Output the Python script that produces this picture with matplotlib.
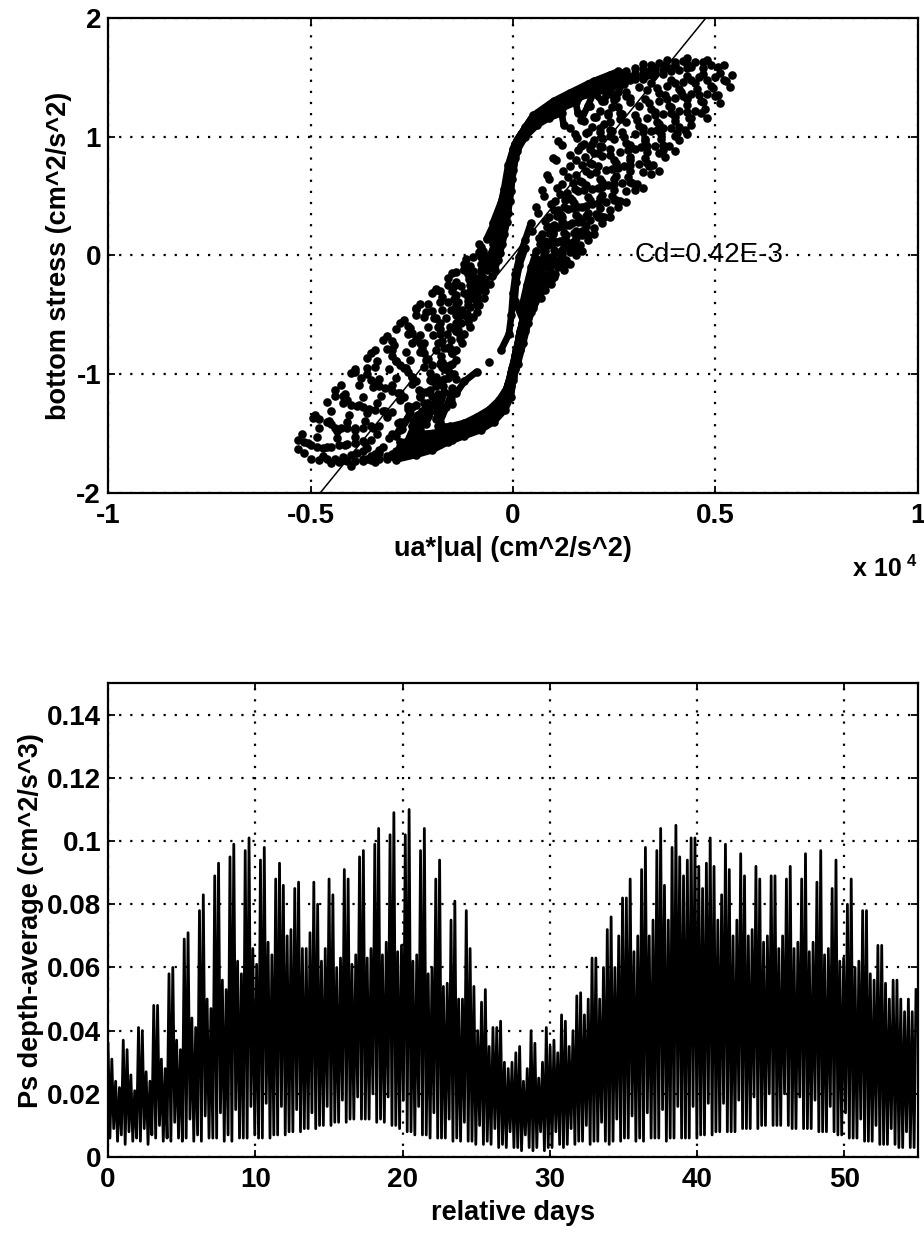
import numpy as np
import matplotlib
matplotlib.use("Agg")
import matplotlib.pyplot as plt
from matplotlib.ticker import FuncFormatter

plt.rcParams['font.family'] = ['Liberation Sans', 'DejaVu Sans']
plt.rcParams['axes.unicode_minus'] = False

# ---- top panel: bottom stress vs ua*|ua| (x in units of 1e4 cm^2/s^2) ----
# each loop = one tidal cycle
loop1 = [(-0.53,-1.55),(-0.49,-1.34),(-0.44,-1.13),(-0.40,-0.99),(-0.36,-0.86),(-0.32,-0.71),(-0.28,-0.57),
         (-0.24,-0.44),(-0.20,-0.32),(-0.16,-0.19),(-0.12,-0.07),(-0.08,0.07),(-0.05,0.27),(-0.025,0.49),
         (-0.01,0.70),(0.0,0.90),(0.02,1.02),(0.05,1.18),(0.10,1.30),(0.14,1.37),(0.20,1.47),(0.26,1.55),
         (0.32,1.61),(0.38,1.65),(0.43,1.66),(0.48,1.65),(0.52,1.60),(0.54,1.52),(0.535,1.42),(0.51,1.28),
         (0.48,1.16),(0.43,1.02),(0.40,0.88),(0.36,0.71),(0.32,0.57),(0.28,0.45),(0.24,0.32),(0.20,0.18),
         (0.17,0.04),(0.14,-0.07),(0.10,-0.18),(0.077,-0.27),(0.05,-0.42),(0.037,-0.57),(0.025,-0.74),
         (0.012,-0.91),(0.0,-1.05),(-0.005,-1.19),(-0.02,-1.30),(-0.047,-1.40),(-0.08,-1.47),(-0.12,-1.52),
         (-0.16,-1.57),(-0.20,-1.64),(-0.24,-1.68),(-0.29,-1.72),(-0.34,-1.74),(-0.40,-1.77),(-0.45,-1.75),
         (-0.50,-1.71),(-0.53,-1.63)]
loop1b = [(-0.515,-1.57),(-0.48,-1.38),(-0.44,-1.18),(-0.39,-0.98),(-0.34,-0.80),(-0.29,-0.62),(-0.24,-0.45),
          (-0.19,-0.29),(-0.14,-0.14),(-0.10,-0.01),(-0.065,0.14),(-0.04,0.32),(-0.022,0.52),(-0.01,0.72),
          (0.002,0.90),(0.015,1.00),(0.045,1.15),(0.09,1.27),(0.13,1.34),(0.185,1.44),(0.24,1.52),(0.30,1.58),
          (0.36,1.62),(0.42,1.64),(0.47,1.63),(0.505,1.59),(0.52,1.48),(0.50,1.34),(0.465,1.20),(0.425,1.06),
          (0.385,0.92),(0.345,0.76),(0.305,0.60),(0.265,0.46),(0.225,0.32),(0.185,0.17),(0.155,0.03),
          (0.125,-0.09),(0.095,-0.21),(0.065,-0.34),(0.045,-0.48),(0.03,-0.64),(0.018,-0.80),(0.006,-0.96),
          (-0.004,-1.10),(-0.015,-1.22),(-0.035,-1.33),(-0.07,-1.42),(-0.11,-1.49),(-0.15,-1.55),(-0.20,-1.62),
          (-0.25,-1.67),(-0.31,-1.71),(-0.37,-1.73),(-0.43,-1.74),(-0.48,-1.72),(-0.515,-1.66)]
loop2 = [(-0.50,-1.60),(-0.46,-1.40),(-0.42,-1.18),(-0.36,-0.95),(-0.30,-0.72),(-0.24,-0.50),(-0.18,-0.30),
         (-0.12,-0.12),(-0.08,0.03),(-0.05,0.20),(-0.03,0.40),(-0.015,0.60),(-0.005,0.80),(0.01,0.97),
         (0.04,1.12),(0.08,1.24),(0.12,1.32),(0.17,1.41),(0.22,1.48),(0.28,1.55),(0.34,1.60),(0.40,1.63),
         (0.45,1.63),(0.49,1.60),(0.50,1.50),(0.48,1.36),(0.45,1.22),(0.41,1.08),(0.37,0.93),(0.33,0.78),
         (0.29,0.62),(0.25,0.47),(0.21,0.32),(0.17,0.17),(0.14,0.03),(0.11,-0.10),(0.08,-0.22),(0.055,-0.36),
         (0.035,-0.52),(0.02,-0.70),(0.01,-0.88),(0.0,-1.02),(-0.01,-1.16),(-0.03,-1.28),(-0.06,-1.38),
         (-0.10,-1.46),(-0.14,-1.53),(-0.19,-1.60),(-0.24,-1.65),(-0.30,-1.69),(-0.36,-1.71),(-0.42,-1.72),
         (-0.47,-1.69)]
loop2b = [(-0.485,-1.61),(-0.45,-1.42),(-0.41,-1.22),(-0.36,-1.00),(-0.31,-0.79),(-0.26,-0.59),(-0.21,-0.41),
          (-0.16,-0.25),(-0.12,-0.11),(-0.085,0.03),(-0.055,0.18),(-0.035,0.36),(-0.022,0.56),(-0.012,0.76),
          (0.004,0.94),(0.035,1.10),(0.07,1.21),(0.11,1.30),(0.16,1.39),(0.21,1.46),(0.265,1.52),(0.32,1.57),
          (0.375,1.60),(0.43,1.61),(0.47,1.58),(0.48,1.48),(0.46,1.35),(0.43,1.21),(0.39,1.07),(0.35,0.92),
          (0.31,0.77),(0.27,0.61),(0.23,0.45),(0.19,0.30),(0.155,0.15),(0.12,0.01),(0.092,-0.12),(0.068,-0.25),
          (0.048,-0.39),(0.032,-0.55),(0.02,-0.72),(0.01,-0.88),(-0.002,-1.02),(-0.014,-1.16),(-0.032,-1.27),
          (-0.06,-1.37),(-0.095,-1.45),(-0.135,-1.52),(-0.18,-1.59),(-0.23,-1.64),(-0.29,-1.69),(-0.35,-1.72),
          (-0.41,-1.73),(-0.46,-1.71)]
loop3 = [(-0.47,-1.62),(-0.44,-1.45),(-0.40,-1.26),(-0.35,-1.05),(-0.30,-0.85),(-0.25,-0.65),(-0.20,-0.47),
         (-0.15,-0.30),(-0.11,-0.16),(-0.075,-0.02),(-0.045,0.15),(-0.03,0.35),(-0.02,0.55),(-0.01,0.75),
         (0.005,0.93),(0.03,1.08),(0.06,1.18),(0.10,1.27),(0.15,1.36),(0.20,1.43),(0.25,1.49),(0.30,1.54),
         (0.35,1.58),(0.40,1.60),(0.44,1.59),(0.46,1.50),(0.44,1.36),(0.41,1.22),(0.37,1.07),(0.33,0.92),
         (0.29,0.76),(0.25,0.60),(0.21,0.44),(0.17,0.28),(0.13,0.12),(0.10,-0.03),(0.075,-0.17),(0.05,-0.32),
         (0.03,-0.48),(0.018,-0.65),(0.008,-0.82),(-0.002,-0.98),(-0.012,-1.12),(-0.03,-1.24),(-0.055,-1.34),
         (-0.09,-1.43),(-0.13,-1.50),(-0.17,-1.57),(-0.22,-1.63),(-0.27,-1.68),(-0.33,-1.71),(-0.39,-1.73),
         (-0.44,-1.71)]
loop3b = [(-0.45,-1.61),(-0.425,-1.45),(-0.385,-1.27),(-0.34,-1.08),(-0.29,-0.89),(-0.24,-0.70),(-0.19,-0.53),
          (-0.145,-0.37),(-0.105,-0.21),(-0.075,-0.06),(-0.05,0.10),(-0.032,0.30),(-0.02,0.50),(-0.01,0.70),
          (0.003,0.88),(0.02,1.01),(0.05,1.13),(0.09,1.23),(0.135,1.32),(0.185,1.40),(0.235,1.46),(0.285,1.51),
          (0.335,1.55),(0.385,1.58),(0.43,1.58),(0.44,1.48),(0.42,1.34),(0.39,1.20),(0.355,1.06),(0.315,0.91),
          (0.275,0.75),(0.235,0.59),(0.195,0.43),(0.16,0.28),(0.125,0.13),(0.095,-0.01),(0.07,-0.15),
          (0.048,-0.30),(0.032,-0.46),(0.02,-0.63),(0.01,-0.80),(0.0,-0.96),(-0.011,-1.10),(-0.027,-1.22),
          (-0.052,-1.33),(-0.085,-1.41),(-0.125,-1.49),(-0.165,-1.55),(-0.21,-1.61),(-0.26,-1.66),(-0.31,-1.69),
          (-0.37,-1.71),(-0.42,-1.70)]
loop4 = [(-0.43,-1.60),(-0.41,-1.45),(-0.37,-1.28),(-0.33,-1.10),(-0.28,-0.92),(-0.23,-0.74),(-0.18,-0.57),
         (-0.14,-0.42),(-0.10,-0.26),(-0.07,-0.10),(-0.045,0.06),(-0.03,0.25),(-0.02,0.45),(-0.012,0.65),
         (-0.002,0.85),(0.015,0.98),(0.04,1.10),(0.08,1.20),(0.12,1.29),(0.17,1.37),(0.22,1.44),(0.27,1.49),
         (0.32,1.53),(0.37,1.56),(0.41,1.56),(0.42,1.46),(0.40,1.33),(0.37,1.19),(0.34,1.05),(0.30,0.90),
         (0.26,0.74),(0.22,0.58),(0.18,0.42),(0.145,0.27),(0.115,0.12),(0.09,-0.02),(0.065,-0.16),(0.045,-0.30),
         (0.03,-0.45),(0.02,-0.62),(0.01,-0.80),(0.0,-0.96),(-0.01,-1.10),(-0.025,-1.22),(-0.05,-1.32),
         (-0.08,-1.40),(-0.12,-1.48),(-0.16,-1.54),(-0.20,-1.60),(-0.25,-1.64),(-0.30,-1.67),(-0.35,-1.69),
         (-0.40,-1.68)]
loop4b = [(-0.41,-1.59),(-0.39,-1.45),(-0.355,-1.29),(-0.315,-1.12),(-0.27,-0.95),(-0.225,-0.78),(-0.18,-0.62),
          (-0.14,-0.46),(-0.105,-0.30),(-0.078,-0.15),(-0.055,0.01),(-0.036,0.19),(-0.024,0.39),(-0.014,0.59),
          (-0.004,0.79),(0.01,0.95),(0.035,1.07),(0.07,1.17),(0.11,1.26),(0.155,1.34),(0.20,1.41),(0.25,1.47),
          (0.30,1.51),(0.35,1.54),(0.39,1.55),(0.40,1.45),(0.38,1.32),(0.35,1.18),(0.32,1.04),(0.285,0.89),
          (0.245,0.73),(0.21,0.57),(0.17,0.41),(0.138,0.26),(0.108,0.11),(0.084,-0.03),(0.062,-0.17),
          (0.043,-0.31),(0.03,-0.46),(0.019,-0.63),(0.009,-0.80),(-0.001,-0.95),(-0.011,-1.09),(-0.025,-1.21),
          (-0.047,-1.31),(-0.078,-1.39),(-0.115,-1.47),(-0.155,-1.53),(-0.195,-1.58),(-0.24,-1.62),(-0.29,-1.65),
          (-0.34,-1.67),(-0.385,-1.66)]
loop5 = [(-0.39,-1.58),(-0.37,-1.45),(-0.34,-1.30),(-0.30,-1.14),(-0.26,-0.98),(-0.22,-0.82),(-0.18,-0.66),
         (-0.14,-0.50),(-0.11,-0.35),(-0.085,-0.20),(-0.06,-0.05),(-0.04,0.12),(-0.025,0.32),(-0.015,0.52),
         (-0.005,0.72),(0.005,0.90),(0.025,1.04),(0.055,1.14),(0.09,1.22),(0.13,1.30),(0.18,1.38),(0.23,1.44),
         (0.28,1.49),(0.33,1.52),(0.37,1.53),(0.38,1.43),(0.36,1.30),(0.33,1.16),(0.30,1.02),(0.265,0.87),
         (0.23,0.72),(0.195,0.56),(0.16,0.41),(0.13,0.26),(0.10,0.11),(0.078,-0.03),(0.058,-0.17),(0.04,-0.32),
         (0.028,-0.47),(0.018,-0.64),(0.008,-0.80),(-0.002,-0.95),(-0.012,-1.08),(-0.025,-1.20),(-0.045,-1.30),
         (-0.075,-1.38),(-0.11,-1.46),(-0.15,-1.52),(-0.19,-1.57),(-0.23,-1.61),(-0.28,-1.64),(-0.33,-1.66),
         (-0.37,-1.65)]
loop5b = [(-0.37,-1.56),(-0.35,-1.44),(-0.32,-1.31),(-0.285,-1.16),(-0.25,-1.02),(-0.21,-0.87),(-0.175,-0.72),
          (-0.14,-0.57),(-0.11,-0.42),(-0.087,-0.27),(-0.065,-0.12),(-0.046,0.04),(-0.03,0.22),(-0.018,0.42),
          (-0.009,0.62),(0.0,0.80),(0.012,0.95),(0.035,1.08),(0.07,1.18),(0.11,1.26),(0.15,1.33),(0.20,1.40),
          (0.25,1.45),(0.30,1.49),(0.345,1.51),(0.355,1.41),(0.335,1.28),(0.305,1.14),(0.275,1.00),(0.24,0.85),
          (0.205,0.70),(0.175,0.55),(0.148,0.40),(0.12,0.25),(0.095,0.10),(0.074,-0.04),(0.055,-0.19),
          (0.04,-0.34),(0.027,-0.50),(0.017,-0.66),(0.007,-0.82),(-0.003,-0.97),(-0.013,-1.10),(-0.027,-1.21),
          (-0.047,-1.31),(-0.078,-1.39),(-0.11,-1.45),(-0.15,-1.51),(-0.19,-1.56),(-0.23,-1.60),(-0.28,-1.63),
          (-0.33,-1.64),(-0.36,-1.62)]
loop6 = [(-0.35,-1.55),(-0.33,-1.44),(-0.30,-1.32),(-0.27,-1.19),(-0.24,-1.06),(-0.20,-0.92),(-0.17,-0.78),
         (-0.14,-0.64),(-0.115,-0.50),(-0.09,-0.35),(-0.07,-0.20),(-0.05,-0.04),(-0.035,0.14),(-0.022,0.34),
         (-0.012,0.54),(-0.004,0.74),(0.008,0.92),(0.03,1.06),(0.06,1.16),(0.10,1.25),(0.14,1.32),(0.19,1.39),
         (0.24,1.44),(0.29,1.48),(0.32,1.49),(0.33,1.39),(0.31,1.26),(0.28,1.12),(0.25,0.98),(0.22,0.84),
         (0.19,0.69),(0.16,0.54),(0.135,0.39),(0.11,0.24),(0.09,0.10),(0.07,-0.05),(0.052,-0.20),(0.038,-0.36),
         (0.025,-0.52),(0.015,-0.68),(0.005,-0.84),(-0.005,-0.98),(-0.015,-1.12),(-0.03,-1.22),(-0.05,-1.31),
         (-0.08,-1.39),(-0.11,-1.45),(-0.15,-1.51),(-0.19,-1.55),(-0.23,-1.58),(-0.28,-1.61),(-0.32,-1.61)]
loop7 = [(-0.30,-1.50),(-0.28,-1.40),(-0.26,-1.29),(-0.23,-1.18),(-0.20,-1.06),(-0.175,-0.94),(-0.15,-0.82),
         (-0.13,-0.70),(-0.11,-0.56),(-0.09,-0.42),(-0.07,-0.26),(-0.055,-0.10),(-0.04,0.06),(-0.028,0.24),
         (-0.018,0.44),(-0.008,0.64),(0.0,0.82),(0.012,0.96),(0.035,1.08),(0.07,1.18),(0.11,1.26),(0.15,1.33),
         (0.20,1.39),(0.245,1.43),(0.275,1.44),(0.28,1.34),(0.265,1.20),(0.24,1.06),(0.215,0.92),(0.19,0.78),
         (0.165,0.63),(0.14,0.48),(0.118,0.34),(0.098,0.20),(0.08,0.06),(0.064,-0.09),(0.05,-0.24),(0.038,-0.40),
         (0.026,-0.56),(0.016,-0.72),(0.006,-0.88),(-0.004,-1.02),(-0.016,-1.14),(-0.035,-1.25),(-0.06,-1.33),
         (-0.09,-1.40),(-0.12,-1.46),(-0.16,-1.51),(-0.20,-1.54),(-0.24,-1.57),(-0.28,-1.57)]
loop7b = [(-0.28,-1.47),(-0.26,-1.37),(-0.24,-1.26),(-0.215,-1.15),(-0.19,-1.04),(-0.17,-0.92),(-0.15,-0.80),
          (-0.13,-0.67),(-0.11,-0.53),(-0.09,-0.39),(-0.072,-0.24),(-0.056,-0.09),(-0.042,0.07),(-0.03,0.25),
          (-0.02,0.44),(-0.01,0.63),(-0.002,0.81),(0.012,0.95),(0.04,1.08),(0.075,1.18),(0.115,1.26),(0.155,1.32),
          (0.20,1.37),(0.24,1.40),(0.25,1.31),(0.235,1.18),(0.215,1.04),(0.19,0.90),(0.17,0.76),(0.148,0.61),
          (0.128,0.47),(0.108,0.33),(0.09,0.19),(0.074,0.05),(0.06,-0.10),(0.047,-0.25),(0.036,-0.41),
          (0.025,-0.57),(0.015,-0.73),(0.005,-0.89),(-0.005,-1.03),(-0.018,-1.15),(-0.038,-1.25),(-0.062,-1.33),
          (-0.092,-1.40),(-0.125,-1.45),(-0.165,-1.49),(-0.205,-1.52),(-0.245,-1.54)]
loop8 = [(-0.25,-1.44),(-0.235,-1.34),(-0.22,-1.24),(-0.205,-1.13),(-0.19,-1.02),(-0.175,-0.90),(-0.16,-0.78),
         (-0.14,-0.64),(-0.12,-0.50),(-0.10,-0.36),(-0.08,-0.22),(-0.06,-0.08),(-0.042,0.06),(-0.03,0.22),
         (-0.02,0.40),(-0.012,0.58),(-0.004,0.76),(0.008,0.92),(0.045,1.10),(0.08,1.19),(0.12,1.27),(0.16,1.33),
         (0.20,1.37),(0.22,1.30),(0.20,1.17),(0.18,1.03),(0.16,0.89),(0.14,0.75),(0.12,0.60),(0.104,0.46),
         (0.088,0.32),(0.072,0.18),(0.058,0.04),(0.045,-0.10),(0.034,-0.25),(0.024,-0.40),(0.024,-0.58),
         (0.014,-0.74),(0.004,-0.90),(-0.006,-1.04),(-0.02,-1.16),(-0.04,-1.26),(-0.065,-1.34),(-0.095,-1.40),
         (-0.13,-1.45),(-0.17,-1.48),(-0.21,-1.50),(-0.24,-1.50)]
loop9 = [(-0.19,-1.38),(-0.18,-1.27),(-0.17,-1.15),(-0.16,-1.03),(-0.15,-0.91),(-0.14,-0.80),(-0.12,-0.66),
         (-0.10,-0.52),(-0.085,-0.42),(-0.068,-0.30),(-0.052,-0.17),(-0.038,-0.04),(-0.026,0.10),(-0.016,0.28),
         (-0.008,0.46),(-0.002,0.64),(0.006,0.82),(0.02,0.97),(0.045,1.08),(0.08,1.17),(0.12,1.24),(0.155,1.29),
         (0.16,1.20),(0.14,1.07),(0.12,0.93),(0.105,0.80),(0.09,0.64),(0.077,0.50),(0.062,0.36),(0.046,0.21),
         (0.03,0.06),(0.016,-0.08),(0.008,-0.22),(0.004,-0.38),(0.024,-0.54),(0.015,-0.70),(0.006,-0.86),
         (-0.004,-1.00),(-0.016,-1.12),(-0.035,-1.22),(-0.06,-1.30),(-0.09,-1.36),(-0.12,-1.41),(-0.155,-1.44),
         (-0.185,-1.44)]
loop10 = [(-0.15,-1.25),(-0.15,-1.12),(-0.145,-1.00),(-0.14,-0.88),(-0.125,-0.74),(-0.105,-0.60),(-0.088,-0.48),
          (-0.072,-0.36),(-0.058,-0.24),(-0.045,-0.12),(-0.033,0.02),(-0.022,0.18),(-0.013,0.36),(-0.006,0.54),
          (0.0,0.72),(0.01,0.88),(0.03,1.00),(0.06,1.10),(0.09,1.16),(0.12,1.20),(0.125,1.10),(0.11,0.96),
          (0.098,0.82),(0.085,0.68),(0.072,0.55),(0.058,0.41),(0.044,0.27),(0.03,0.13),(0.016,-0.01),
          (0.006,-0.16),(0.0,-0.32),(-0.004,-0.50),(-0.01,-0.66),(-0.03,-0.80),(-0.06,-0.90),(-0.09,-0.98),
          (-0.12,-1.06),(-0.14,-1.16)]

# decelerating branches of further cycles (upper-right and lower-left clouds)
upper_returns = [
    [(0.525,1.47),(0.505,1.35),(0.475,1.23),(0.44,1.10),(0.41,0.97),(0.375,0.83),(0.34,0.69),(0.30,0.55),
     (0.26,0.41),(0.22,0.27),(0.185,0.13),(0.155,0.0),(0.125,-0.12),(0.095,-0.24),(0.07,-0.36)],
    [(0.51,1.54),(0.495,1.41),(0.47,1.29),(0.44,1.16),(0.405,1.03),(0.37,0.89),(0.335,0.75),(0.295,0.61),
     (0.255,0.47),(0.215,0.33),(0.18,0.19),(0.148,0.06),(0.12,-0.06),(0.092,-0.18),(0.068,-0.30),(0.05,-0.44)],
    [(0.49,1.43),(0.465,1.30),(0.435,1.16),(0.40,1.01),(0.36,0.86),(0.32,0.70),(0.28,0.54),(0.24,0.38),
     (0.20,0.23),(0.165,0.09),(0.132,-0.04),(0.104,-0.16),(0.078,-0.29)],
    [(0.47,1.53),(0.455,1.40),(0.43,1.27),(0.40,1.13),(0.365,0.98),(0.325,0.82),(0.285,0.66),(0.245,0.50),
     (0.205,0.35),(0.17,0.21),(0.14,0.07),(0.11,-0.06),(0.085,-0.19),(0.06,-0.32)],
    [(0.45,1.45),(0.43,1.32),(0.40,1.17),(0.365,1.02),(0.33,0.87),(0.29,0.71),(0.25,0.55),(0.215,0.40),
     (0.18,0.25),(0.148,0.11),(0.118,-0.02),(0.09,-0.14),(0.066,-0.27)],
    [(0.43,1.51),(0.415,1.38),(0.39,1.25),(0.36,1.11),(0.325,0.96),(0.29,0.80),(0.25,0.64),(0.215,0.48),
     (0.18,0.33),(0.15,0.19),(0.12,0.05),(0.095,-0.08),(0.072,-0.21),(0.05,-0.35)],
    [(0.41,1.40),(0.385,1.26),(0.355,1.12),(0.325,0.98),(0.29,0.83),(0.255,0.67),(0.22,0.51),(0.185,0.36),
     (0.155,0.21),(0.125,0.07),(0.10,-0.06),(0.077,-0.20)],
    [(0.39,1.48),(0.375,1.35),(0.35,1.21),(0.32,1.07),(0.29,0.93),(0.255,0.78),(0.22,0.62),(0.19,0.47),
     (0.16,0.32),(0.13,0.17),(0.105,0.03),(0.082,-0.10),(0.06,-0.24)],
    [(0.36,1.37),(0.34,1.23),(0.31,1.09),(0.28,0.95),(0.25,0.80),(0.215,0.64),(0.185,0.49),(0.155,0.34),
     (0.127,0.19),(0.10,0.05),(0.078,-0.09),(0.058,-0.23)],
    [(0.34,1.45),(0.325,1.32),(0.30,1.18),(0.27,1.04),(0.24,0.90),(0.21,0.75),(0.18,0.59),(0.15,0.44),
     (0.122,0.29),(0.097,0.14),(0.076,0.0),(0.057,-0.14)],
    [(0.31,1.42),(0.29,1.29),(0.265,1.15),(0.24,1.01),(0.21,0.86),(0.18,0.71),(0.152,0.56),(0.126,0.41),
     (0.102,0.26),(0.08,0.12),(0.06,-0.03),(0.044,-0.18)],
    [(0.30,1.50),(0.28,1.38),(0.26,1.25),(0.24,1.12),(0.22,0.99),(0.20,0.86)],
    [(0.29,1.33),(0.27,1.19),(0.245,1.05),(0.22,0.91),(0.195,0.77),(0.17,0.62),(0.145,0.47),(0.12,0.32),
     (0.098,0.18),(0.078,0.04),(0.06,-0.11)],
    [(0.27,1.46),(0.255,1.33),(0.235,1.20),(0.215,1.07),(0.195,0.94)],
    [(0.26,1.38),(0.245,1.25),(0.225,1.11),(0.20,0.97),(0.178,0.83),(0.155,0.68),(0.133,0.53),(0.112,0.38),
     (0.092,0.24),(0.074,0.10),(0.058,-0.05)],
    [(0.24,1.43),(0.225,1.30),(0.205,1.17),(0.185,1.04),(0.168,0.92)],
    [(0.23,1.35),(0.215,1.22),(0.195,1.08),(0.175,0.94),(0.155,0.80),(0.135,0.66),(0.117,0.52),(0.10,0.38),
     (0.083,0.24),(0.067,0.10)],
    [(0.20,1.38),(0.185,1.26),(0.168,1.14),(0.152,1.02)],
    [(0.19,1.26),(0.175,1.13),(0.158,0.99),(0.14,0.85),(0.123,0.71),(0.108,0.57),(0.093,0.43),(0.078,0.29),
     (0.063,0.15)],
]
lower_returns = [
    [(-0.52,-1.50),(-0.495,-1.37),(-0.46,-1.23),(-0.425,-1.09),(-0.39,-0.96),(-0.35,-0.82),(-0.31,-0.68),
     (-0.27,-0.54),(-0.23,-0.41),(-0.19,-0.28),(-0.15,-0.15),(-0.115,-0.03),(-0.085,0.10)],
    [(-0.505,-1.58),(-0.48,-1.45),(-0.45,-1.31),(-0.415,-1.17),(-0.375,-1.03),(-0.335,-0.89),(-0.295,-0.75),
     (-0.255,-0.61),(-0.215,-0.48),(-0.175,-0.35),(-0.14,-0.22),(-0.105,-0.09),(-0.075,0.04)],
    [(-0.485,-1.53),(-0.455,-1.39),(-0.42,-1.24),(-0.38,-1.09),(-0.34,-0.94),(-0.30,-0.80),(-0.26,-0.66),
     (-0.22,-0.52),(-0.18,-0.39),(-0.145,-0.26),(-0.11,-0.13),(-0.08,-0.01)],
    [(-0.46,-1.61),(-0.435,-1.48),(-0.405,-1.34),(-0.37,-1.19),(-0.33,-1.04),(-0.29,-0.89),(-0.25,-0.74),
     (-0.21,-0.60),(-0.175,-0.46),(-0.14,-0.33),(-0.108,-0.20),(-0.078,-0.07)],
    [(-0.435,-1.54),(-0.41,-1.40),(-0.38,-1.26),(-0.345,-1.11),(-0.305,-0.96),(-0.265,-0.81),(-0.23,-0.67),
     (-0.195,-0.53),(-0.16,-0.39),(-0.128,-0.26),(-0.098,-0.13),(-0.072,0.0)],
    [(-0.415,-1.60),(-0.39,-1.47),(-0.36,-1.33),(-0.325,-1.18),(-0.29,-1.03),(-0.255,-0.88),(-0.22,-0.74),
     (-0.185,-0.60),(-0.152,-0.46),(-0.122,-0.32),(-0.094,-0.19),(-0.068,-0.06)],
    [(-0.39,-1.53),(-0.365,-1.39),(-0.335,-1.24),(-0.30,-1.09),(-0.265,-0.95),(-0.23,-0.81),(-0.197,-0.67),
     (-0.165,-0.53),(-0.135,-0.39),(-0.107,-0.25),(-0.08,-0.12)],
    [(-0.365,-1.58),(-0.345,-1.45),(-0.315,-1.31),(-0.28,-1.16),(-0.25,-1.02),(-0.215,-0.88),(-0.185,-0.74),
     (-0.155,-0.60),(-0.127,-0.46),(-0.10,-0.32),(-0.075,-0.19)],
    [(-0.335,-1.50),(-0.31,-1.36),(-0.28,-1.22),(-0.25,-1.08),(-0.22,-0.94),(-0.19,-0.80),(-0.162,-0.66),
     (-0.135,-0.52),(-0.11,-0.38),(-0.086,-0.24)],
    [(-0.305,-1.54),(-0.285,-1.41),(-0.26,-1.27),(-0.232,-1.13),(-0.205,-0.99),(-0.178,-0.85),(-0.152,-0.71),
     (-0.128,-0.57),(-0.105,-0.43),(-0.083,-0.29)],
    [(-0.29,-1.52),(-0.27,-1.40),(-0.25,-1.28),(-0.225,-1.15),(-0.20,-1.02),(-0.178,-0.90),(-0.158,-0.78)],
    [(-0.275,-1.46),(-0.255,-1.33),(-0.23,-1.19),(-0.205,-1.05),(-0.18,-0.91),(-0.157,-0.77),(-0.135,-0.63),
     (-0.113,-0.49),(-0.092,-0.35)],
    [(-0.26,-1.56),(-0.245,-1.44),(-0.225,-1.31),(-0.20,-1.18),(-0.18,-1.06),(-0.162,-0.94)],
    [(-0.245,-1.49),(-0.228,-1.37),(-0.21,-1.24),(-0.19,-1.10),(-0.17,-0.96),(-0.15,-0.82)],
    [(-0.23,-1.47),(-0.21,-1.35),(-0.19,-1.22),(-0.172,-1.10),(-0.158,-0.98)],
    [(-0.215,-1.42),(-0.20,-1.30),(-0.185,-1.17),(-0.17,-1.04),(-0.155,-0.92)],
    [(-0.18,-1.40),(-0.165,-1.28),(-0.152,-1.16),(-0.14,-1.04)],
]
loops = ([loop1, loop1b, loop2, loop2b, loop3, loop3b, loop4, loop4b, loop5, loop5b,
          loop6, loop7, loop7b, loop8, loop9, loop10] + upper_returns + lower_returns)

Cd = 0.42e-3          # drag coefficient of the fitted line
x_scale = 1e4         # x axis multiplier

# ---- bottom panel: depth-averaged production, one max per quarter tidal cycle ----
tidal_step = 0.2588   # days between successive current maxima
peak_vals = [
    .036, .031, .024, .022,  .037, .034, .026, .021,  .041, .040, .027, .024,  .048, .048, .031, .028,
    .058, .060, .037, .034,  .069, .071, .044, .041,  .078, .083, .050, .047,  .089, .093, .056, .053,
    .095, .099, .062, .058,  .097, .101, .066, .061,  .094, .098, .068, .064,  .088, .093, .086, .070,
    .072, .085, .087, .066,  .066, .071, .087, .080,  .062, .066, .088, .083,  .060, .063, .091, .088,
    .061, .064, .095, .097,  .063, .066, .099, .104,  .064, .068, .102, .109,  .065, .067, .102, .110,
    .062, .064, .097, .104,  .058, .060, .088, .094,  .054, .055, .075, .081,  .050, .050, .078, .066,
    .054, .040, .049, .053,  .035, .041, .041, .043,  .030, .028, .030, .033,  .035, .024, .028, .040,
    .036, .025, .030, .041,  .035, .037, .033, .045,  .043, .035, .040, .051,  .052, .045, .050, .063,
    .063, .050, .060, .072,  .076, .060, .070, .082,  .082, .088, .065, .070,  .091, .098, .070, .075,
    .097, .104, .086, .075,  .098, .105, .095, .089,  .094, .101, .101, .092,  .085, .093, .101, .092,
    .075, .083, .099, .091,  .070, .075, .096, .089,  .070, .072, .092, .088,  .068, .070, .089, .089,
    .066, .070, .088, .092,  .066, .068, .088, .096,  .065, .068, .087, .097,  .064, .066, .085, .094,
    .062, .063, .080, .088,  .060, .062, .078, .078,  .058, .056, .067, .067,  .055, .050, .056, .056,
    .050, .046, .050, .046,  .053]
trough_vals = [
    .006, .009, .005, .007,  .004, .008, .005, .006,  .005, .009, .004, .007,  .006, .010, .005, .006,
    .005, .011, .006, .005,  .006, .012, .005, .007,  .005, .013, .006, .006,  .006, .014, .005, .007,
    .005, .015, .006, .006,  .006, .016, .007, .006,  .006, .017, .006, .007,  .007, .016, .007, .008,
    .008, .015, .008, .009,  .009, .014, .009, .010,  .010, .016, .010, .011,  .011, .018, .011, .012,
    .012, .019, .012, .012,  .012, .020, .011, .012,  .011, .019, .010, .010,  .009, .018, .008, .008,
    .007, .016, .007, .007,  .006, .014, .006, .006,  .006, .012, .005, .006,  .005, .011, .005, .005,
    .004, .010, .004, .005,  .004, .009, .003, .004,  .003, .008, .003, .003,  .002, .007, .003, .002,
    .003, .008, .002, .003,  .003, .008, .004, .003,  .004, .009, .004, .005,  .005, .010, .004, .005,
    .005, .011, .005, .004,  .005, .012, .005, .006,  .006, .013, .005, .006,  .005, .014, .006, .006,
    .006, .015, .005, .006,  .006, .016, .006, .006,  .006, .016, .006, .007,  .007, .017, .007, .008,
    .008, .017, .008, .008,  .008, .018, .009, .009,  .009, .019, .009, .010,  .010, .020, .010, .010,
    .010, .020, .010, .009,  .009, .019, .009, .009,  .009, .018, .008, .008,  .008, .016, .008, .007,
    .007, .014, .006, .006,  .006, .012, .005, .005,  .005, .010, .004, .004,  .004, .009, .004, .003,
    .003, .008, .003, .003]

# interleave maxima and slack values along the time axis
t_peak = np.arange(len(peak_vals)) * tidal_step
t_trough = t_peak[:len(trough_vals)] + tidal_step / 2
days = np.empty(len(peak_vals) + len(trough_vals))
ps = np.empty_like(days)
days[0::2] = t_peak
days[1::2] = t_trough
ps[0::2] = peak_vals
ps[1::2] = trough_vals

fmt = FuncFormatter(lambda v, p: "%g" % v)
label_font = dict(fontsize=19.5, fontweight='bold')


def style(ax):
    ax.grid(True, color='k', linestyle=(0, (1, 4)), linewidth=1.6)
    ax.tick_params(direction='in', length=5, width=1.3, top=True, right=True, pad=7)
    for s in ax.spines.values():
        s.set_linewidth(1.6)
    for lab in ax.get_xticklabels() + ax.get_yticklabels():
        lab.set_fontsize(20)
        lab.set_fontweight('bold')
    ax.xaxis.set_major_formatter(fmt)
    ax.yaxis.set_major_formatter(fmt)


def in_core(x, y):
    # where the samples pile up into solid ribbons in the scan
    ribbon_up = (x > -0.075) & (x < 0.045) & (y > -0.15) & (y < 1.05)
    band_top = (x < 0.30) & (y > 0.78 + 2.1 * x)
    ribbon_dn = (x > -0.045) & (x < 0.07) & (y < 0.15) & (y > -1.3)
    band_bot = (x > -0.30) & (y < -0.78 + 2.1 * x)
    return ribbon_up | band_top | ribbon_dn | band_bot


fig = plt.figure(figsize=(9.24, 12.33), dpi=100)

ax1 = fig.add_axes([0.1169, 0.6002, 0.8766, 0.3852])
for lp in loops:
    xs, ys = (np.array(v) for v in zip(*lp))
    ax1.plot(xs, ys, 'o', color='k', ms=6.2, mew=0)
    ys_core = np.where(in_core(xs, ys), ys, np.nan)
    ax1.plot(xs, ys_core, '-', color='k', lw=4.8, solid_capstyle='round')
ax1.plot([-1, 1], [-Cd * x_scale, Cd * x_scale], color='k', lw=1.1)
ax1.set_xlim(-1, 1)
ax1.set_ylim(-2, 2)
ax1.set_xticks([-1, -0.5, 0, 0.5, 1])
ax1.set_yticks([-2, -1, 0, 1, 2])
style(ax1)
ax1.tick_params(axis='y', pad=5)
ax1.text(0.30, 0.0, "Cd=0.42E-3", fontsize=20, ha='left', va='center')
ax1.set_xlabel("ua*|ua| (cm^2/s^2)", **label_font)
ax1.set_ylabel("bottom stress (cm^2/s^2)", **label_font)
ax1.xaxis.set_label_coords(0.5, -0.09)
ax1.yaxis.set_label_coords(-0.044, 0.5)
fig.text(853 / 924, 1 - 576 / 1233, "x 10", fontsize=18, fontweight='bold', ha='left', va='baseline')
fig.text(907 / 924, 1 - 566 / 1233, "4", fontsize=12, fontweight='bold', ha='left', va='baseline')

ax2 = fig.add_axes([0.1169, 0.0616, 0.8766, 0.3844])
ax2.plot(days, ps, color='k', lw=2.0)
ax2.set_xlim(0, 55)
ax2.set_ylim(0, 0.15)
ax2.set_xticks([0, 10, 20, 30, 40, 50])
ax2.set_yticks([0, 0.02, 0.04, 0.06, 0.08, 0.1, 0.12, 0.14])
style(ax2)
ax2.tick_params(axis='y', pad=5)
ax2.set_xlabel("relative days", **label_font)
ax2.set_ylabel("Ps depth-average (cm^2/s^3)", **label_font)
ax2.xaxis.set_label_coords(0.5, -0.09)
ax2.yaxis.set_label_coords(-0.079, 0.5)

fig.savefig("out.png", dpi=100)
